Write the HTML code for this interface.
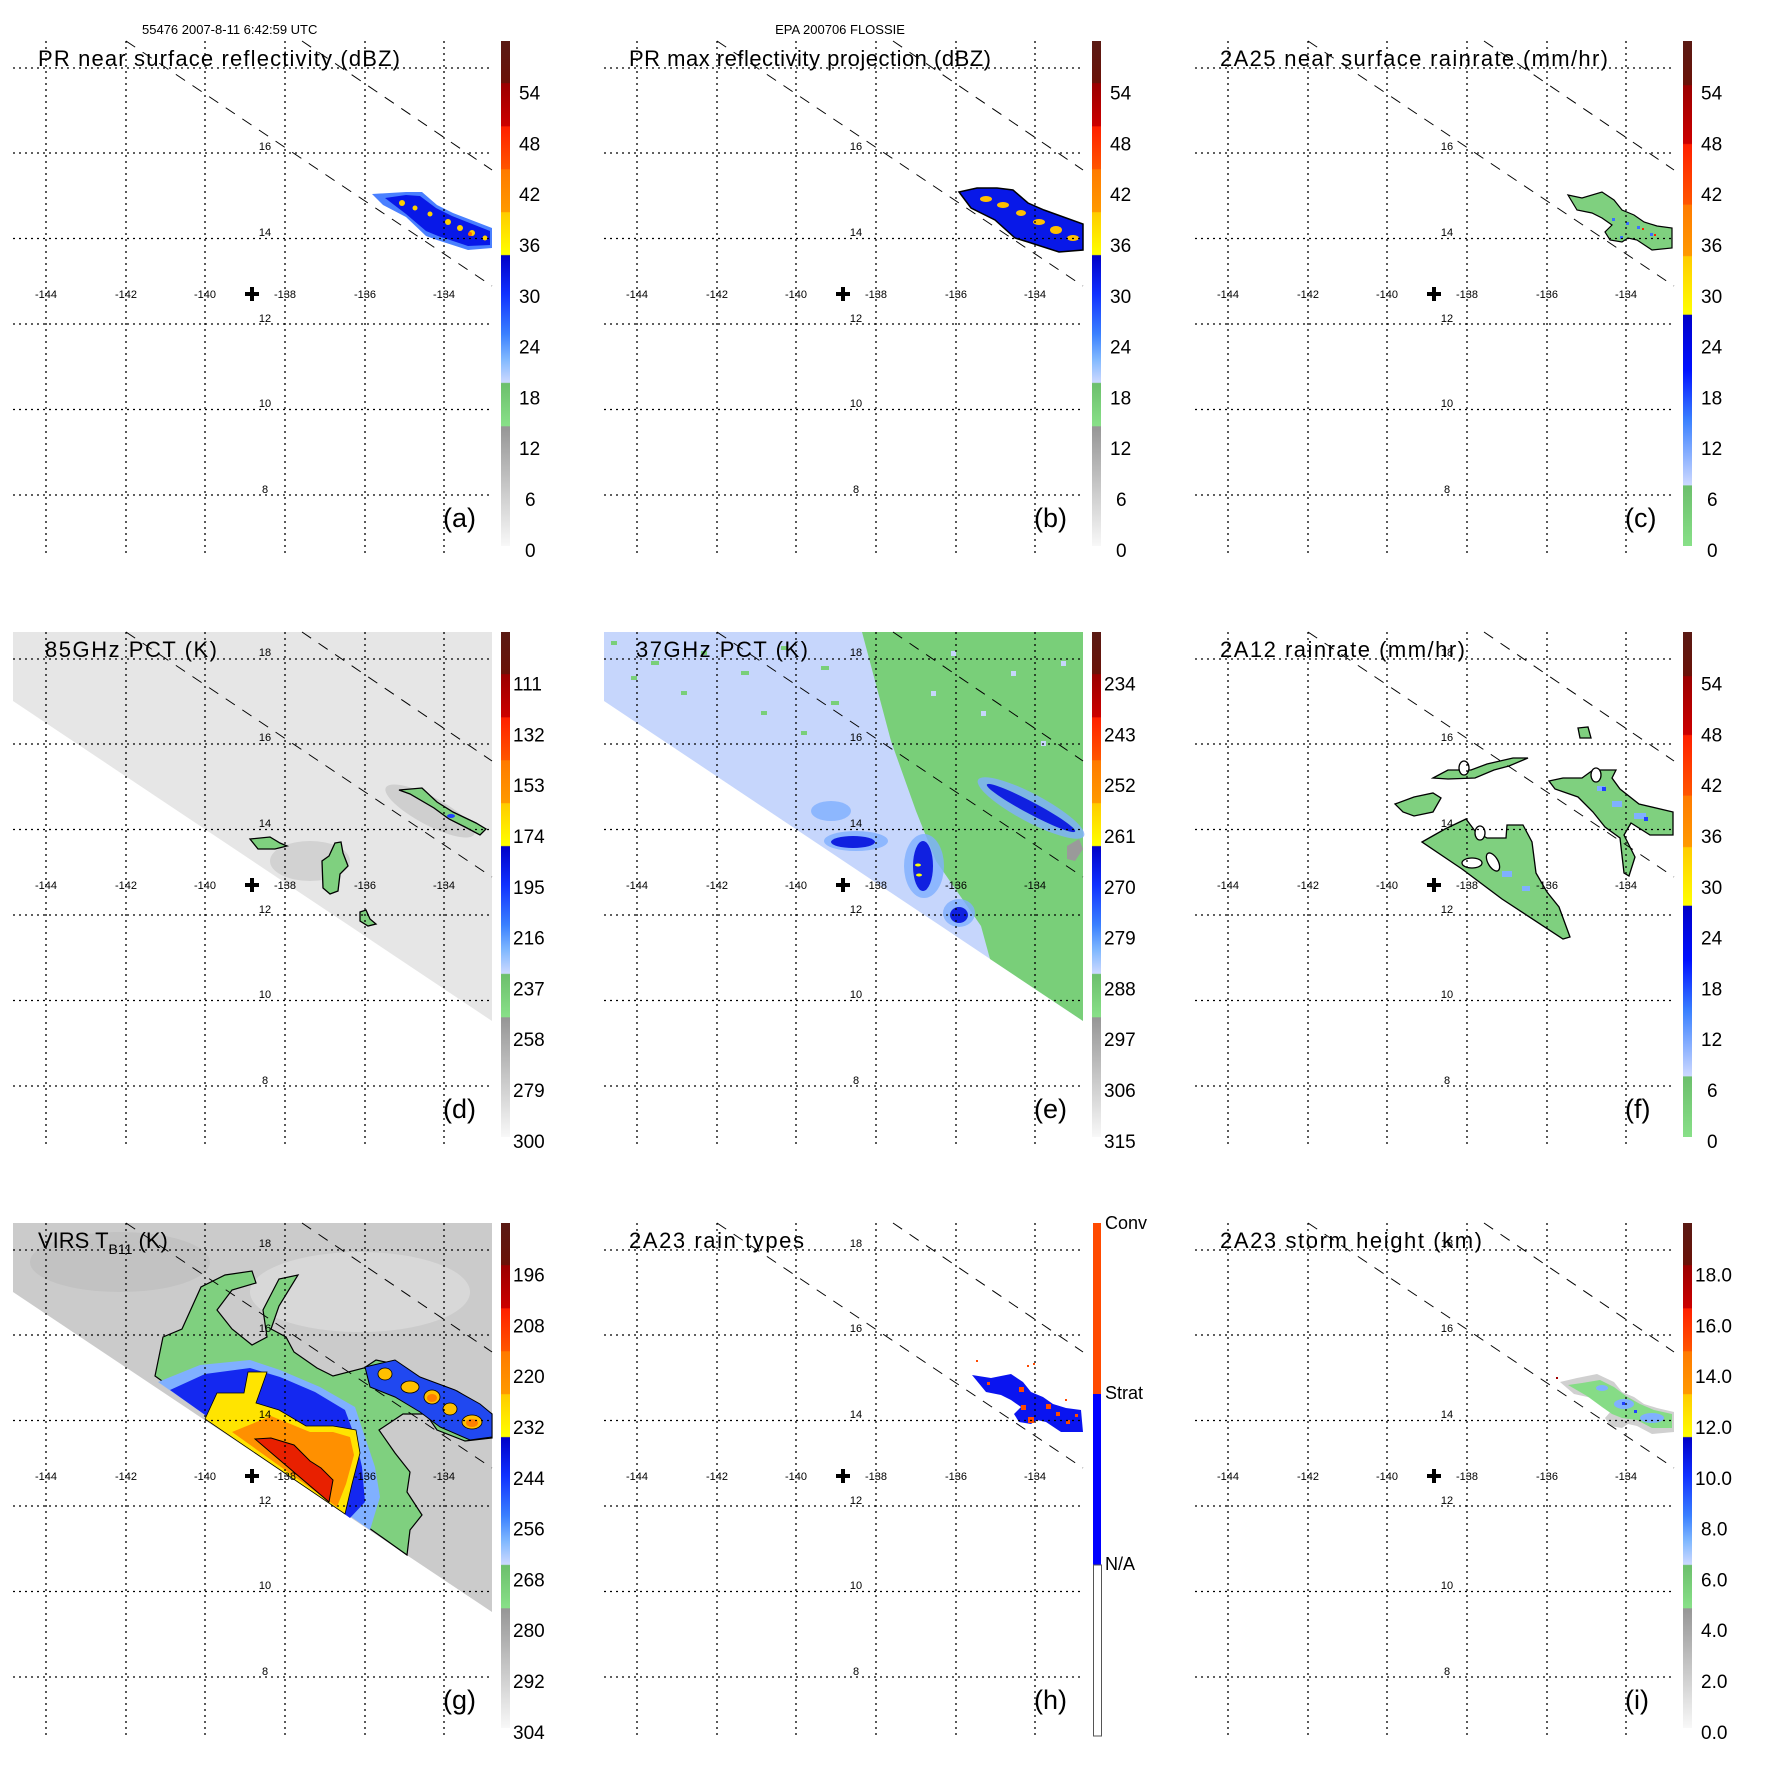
<!DOCTYPE html>
<html><head><meta charset="utf-8"><style>
html,body{margin:0;padding:0;background:#fff}
svg{display:block;font-family:"Liberation Sans",Arial,sans-serif}
.t{font-size:22px}
.lon{font-size:11px;text-anchor:middle}
.lat{font-size:11px;text-anchor:middle}
.cb{font-size:19px}
.pl{font-size:27px}
</style></head><body>
<svg width="1771" height="1771" viewBox="0 0 1771 1771" xmlns="http://www.w3.org/2000/svg">
<defs>
<linearGradient id="gA" x1="0" y1="0" x2="0" y2="1">
<stop offset="0" stop-color="#5a1a14"/><stop offset="0.083" stop-color="#6a1208"/>
<stop offset="0.084" stop-color="#9a0000"/><stop offset="0.168" stop-color="#cc0000"/>
<stop offset="0.17" stop-color="#ff2000"/><stop offset="0.253" stop-color="#ff5500"/>
<stop offset="0.255" stop-color="#ff7a00"/><stop offset="0.338" stop-color="#ff9900"/>
<stop offset="0.34" stop-color="#ffcc00"/><stop offset="0.423" stop-color="#ffff00"/>
<stop offset="0.425" stop-color="#0000c8"/><stop offset="0.5" stop-color="#1030ff"/>
<stop offset="0.58" stop-color="#3a80ff"/><stop offset="0.63" stop-color="#80b8ff"/>
<stop offset="0.676" stop-color="#ccd8ff"/>
<stop offset="0.678" stop-color="#6cbf6c"/><stop offset="0.762" stop-color="#88e088"/>
<stop offset="0.764" stop-color="#969696"/><stop offset="1" stop-color="#f8f8f8"/>
</linearGradient>
<linearGradient id="gC" x1="0" y1="0" x2="0" y2="1">
<stop offset="0" stop-color="#5a1a14"/><stop offset="0.087" stop-color="#6a1208"/>
<stop offset="0.088" stop-color="#9a0000"/><stop offset="0.203" stop-color="#cc0000"/>
<stop offset="0.205" stop-color="#ff2000"/><stop offset="0.323" stop-color="#ff5500"/>
<stop offset="0.325" stop-color="#ff7a00"/><stop offset="0.425" stop-color="#ff9900"/>
<stop offset="0.427" stop-color="#ffcc00"/><stop offset="0.541" stop-color="#ffff00"/>
<stop offset="0.543" stop-color="#0000c8"/><stop offset="0.65" stop-color="#0010ff"/>
<stop offset="0.75" stop-color="#3a80ff"/><stop offset="0.879" stop-color="#ccd8ff"/>
<stop offset="0.881" stop-color="#6cbf6c"/><stop offset="1" stop-color="#88e088"/>
</linearGradient>
<g id="grid" fill="none" stroke="#000">
<g stroke-width="1.3" stroke-dasharray="2,4">
<path d="M46 41V556M126 41V556M205 41V556M285 41V556M365 41V556M444 41V556"/>
<path d="M13 68H492M13 153H492M13 238.5H492M13 324H492M13 409.5H492M13 495H492"/>
</g>
<g stroke-width="1" stroke-dasharray="11,9">
<path d="M126 41L492 286"/><path d="M302 41L492 170"/>
</g>
<path d="M252 287V301M245 294H259" stroke-width="4"/>
</g>
<g id="lbl">
<text class="lon" x="46" y="298">-144</text><text class="lon" x="126" y="298">-142</text>
<text class="lon" x="205" y="298">-140</text><text class="lon" x="285" y="298">-138</text>
<text class="lon" x="365" y="298">-136</text><text class="lon" x="444" y="298">-134</text>
</g>
<polygon id="swath" points="13,41 492,41 492,430 13,110"/>
</defs>

<text x="142" y="34" font-size="13">55476 2007-8-11 6:42:59 UTC</text>
<text x="840" y="34" font-size="13" text-anchor="middle">EPA 200706 FLOSSIE</text>

<!-- Panel a -->
<g transform="translate(0,0)">
<polygon points="372,194 406,192 422,192 437,205 453,213 492,228 492,248 468,250 437,240 426,236 406,217 383,205" fill="#4a80ff"/>
<polygon points="385,198 406,195 420,196 436,208 452,216 490,231 490,245 468,246 438,236 426,231 406,214" fill="#0818e8"/>
<g fill="#ffd000"><circle cx="402" cy="203" r="3"/><circle cx="415" cy="208" r="2.5"/><circle cx="430" cy="214" r="2.5"/><circle cx="448" cy="222" r="3"/><circle cx="460" cy="228" r="3"/><circle cx="472" cy="233" r="3"/><circle cx="485" cy="238" r="2.5"/></g>
<circle cx="470" cy="234" r="2" fill="#ff6a00"/>
<use href="#grid"/>
<text class="lat" x="265" y="150">16</text><text class="lat" x="265" y="236">14</text><text class="lat" x="265" y="322">12</text><text class="lat" x="265" y="407">10</text><text class="lat" x="265" y="493">8</text>
<use href="#lbl"/>
<text class="t" x="38" y="66" textLength="362">PR near surface reflectivity (dBZ)</text>
<rect x="501" y="41" width="9" height="505" fill="url(#gA)"/>
<g class="cb"><text x="519" y="99.6">54</text><text x="519" y="150.4">48</text><text x="519" y="201.2">42</text><text x="519" y="252">36</text><text x="519" y="302.8">30</text><text x="519" y="353.6">24</text><text x="519" y="404.4">18</text><text x="519" y="455.2">12</text><text x="525" y="506">6</text><text x="525" y="556.8">0</text></g>
<text class="pl" x="443" y="527">(a)</text>
</g>

<!-- Panel b -->
<g transform="translate(591,0)">
<polygon points="368,192 386,188 406,188 422,190 437,203 453,210 492,224 492,250 468,252 437,242 424,238 404,220 380,208" fill="#0818e8" stroke="#000" stroke-width="1.5"/>
<g fill="#ffc000"><ellipse cx="395" cy="199" rx="6" ry="3"/><ellipse cx="412" cy="205" rx="6" ry="3"/><ellipse cx="430" cy="213" rx="5" ry="3"/><ellipse cx="448" cy="222" rx="6" ry="3"/><ellipse cx="465" cy="230" rx="6" ry="4"/><ellipse cx="482" cy="238" rx="6" ry="3"/></g>
<use href="#grid"/>
<text class="lat" x="265" y="150">16</text><text class="lat" x="265" y="236">14</text><text class="lat" x="265" y="322">12</text><text class="lat" x="265" y="407">10</text><text class="lat" x="265" y="493">8</text>
<use href="#lbl"/>
<text class="t" x="38" y="66" textLength="362">PR max reflectivity projection (dBZ)</text>
<rect x="501" y="41" width="9" height="505" fill="url(#gA)"/>
<g class="cb"><text x="519" y="99.6">54</text><text x="519" y="150.4">48</text><text x="519" y="201.2">42</text><text x="519" y="252">36</text><text x="519" y="302.8">30</text><text x="519" y="353.6">24</text><text x="519" y="404.4">18</text><text x="519" y="455.2">12</text><text x="525" y="506">6</text><text x="525" y="556.8">0</text></g>
<text class="pl" x="443" y="527">(b)</text>
</g>

<!-- Panel c -->
<g transform="translate(1182,0)">
<polygon points="386,195 400,198 420,192 432,200 440,210 452,215 462,222 475,226 490,228 490,248 470,250 455,240 446,238 440,242 428,240 423,232 430,225 420,218 410,213 395,210" fill="#7fd07f" stroke="#000" stroke-width="1.2"/>
<g fill="#3a70ff"><rect x="430" y="218" width="3" height="3"/><rect x="444" y="222" width="3" height="3"/><rect x="455" y="226" width="3" height="3"/><rect x="468" y="233" width="3" height="3"/><rect x="438" y="236" width="3" height="3"/></g>
<g fill="#ff2000"><rect x="460" y="228" width="2" height="2"/><rect x="472" y="234" width="2" height="2"/></g>
<use href="#grid"/>
<text class="lat" x="265" y="150">16</text><text class="lat" x="265" y="236">14</text><text class="lat" x="265" y="322">12</text><text class="lat" x="265" y="407">10</text><text class="lat" x="265" y="493">8</text>
<use href="#lbl"/>
<text class="t" x="38" y="66" textLength="388">2A25 near surface rainrate (mm/hr)</text>
<rect x="501" y="41" width="9" height="505" fill="url(#gC)"/>
<g class="cb"><text x="519" y="99.6">54</text><text x="519" y="150.4">48</text><text x="519" y="201.2">42</text><text x="519" y="252">36</text><text x="519" y="302.8">30</text><text x="519" y="353.6">24</text><text x="519" y="404.4">18</text><text x="519" y="455.2">12</text><text x="525" y="506">6</text><text x="525" y="556.8">0</text></g>
<text class="pl" x="443" y="527">(c)</text>
</g>

<!-- Panel d -->
<g transform="translate(0,591)">
<use href="#swath" fill="#e6e6e6"/>
<ellipse cx="430" cy="220" rx="50" ry="14" fill="#cfcfcf" transform="rotate(28 430 220)"/>
<ellipse cx="310" cy="270" rx="40" ry="20" fill="#d2d2d2"/>
<g fill="#7fd07f" stroke="#000" stroke-width="1.3">
<polygon points="399,199 422,197 437,211 453,221 476,232 486,238 480,244 465,236 449,228 434,217 410,203"/>
<polygon points="250,248 270,246 280,252 287,255 275,258 258,258"/>
<polygon points="335,252 341,251 343,262 348,275 340,283 338,300 330,303 323,297 322,270 329,265"/>
<polygon points="360,321 366,319 370,328 376,333 368,335 360,330"/>
</g>
<ellipse cx="451" cy="225" rx="4" ry="2" fill="#2040ff"/>
<use href="#grid"/>
<text class="lat" x="265" y="65">18</text><text class="lat" x="265" y="150">16</text><text class="lat" x="265" y="236">14</text><text class="lat" x="265" y="322">12</text><text class="lat" x="265" y="407">10</text><text class="lat" x="265" y="493">8</text>
<use href="#lbl"/>
<text class="t" x="45" y="66" textLength="172">85GHz PCT (K)</text>
<rect x="501" y="41" width="9" height="505" fill="url(#gA)"/>
<g class="cb"><text x="513" y="99.6">111</text><text x="513" y="150.4">132</text><text x="513" y="201.2">153</text><text x="513" y="252">174</text><text x="513" y="302.8">195</text><text x="513" y="353.6">216</text><text x="513" y="404.4">237</text><text x="513" y="455.2">258</text><text x="513" y="506">279</text><text x="513" y="556.8">300</text></g>
<text class="pl" x="443" y="527">(d)</text>
</g>

<!-- Panel e -->
<g transform="translate(591,591)">
<use href="#swath" fill="#c6d6fc"/>
<polygon points="271,41 492,41 492,430 399,368 390,335 345,270 325,220 300,150" fill="#79cf79"/>
<g fill="#79cf79"><rect x="20" y="50" width="6" height="4"/><rect x="60" y="70" width="8" height="4"/><rect x="110" y="60" width="6" height="4"/><rect x="150" y="80" width="8" height="4"/><rect x="190" y="55" width="6" height="4"/><rect x="230" y="75" width="8" height="4"/><rect x="90" y="100" width="6" height="4"/><rect x="170" y="120" width="6" height="4"/><rect x="240" y="110" width="8" height="4"/><rect x="210" y="140" width="6" height="4"/><rect x="40" y="85" width="6" height="4"/></g>
<g fill="#c6d6fc"><rect x="360" y="60" width="5" height="5"/><rect x="420" y="80" width="5" height="5"/><rect x="470" y="70" width="5" height="5"/><rect x="390" y="120" width="5" height="5"/><rect x="450" y="150" width="5" height="5"/><rect x="340" y="100" width="5" height="5"/></g>
<g fill="#80b0ff" opacity="0.8"><ellipse cx="440" cy="217" rx="60" ry="14" transform="rotate(28 440 217)"/><ellipse cx="265" cy="250" rx="32" ry="10"/><ellipse cx="333" cy="275" rx="20" ry="32"/><ellipse cx="368" cy="322" rx="16" ry="14"/><ellipse cx="240" cy="220" rx="20" ry="10"/></g>
<g fill="#1020e0"><ellipse cx="440" cy="217" rx="50" ry="6" transform="rotate(28 440 217)"/><ellipse cx="262" cy="251" rx="22" ry="6"/><ellipse cx="332" cy="275" rx="10" ry="25"/><ellipse cx="368" cy="324" rx="9" ry="8"/></g>
<g fill="#ffff00"><ellipse cx="327" cy="274" rx="3" ry="1.5"/><ellipse cx="328" cy="284" rx="3" ry="1.5"/></g>
<polygon points="476,255 488,248 492,258 484,270 476,268" fill="#9a9a9a"/>
<use href="#grid"/>
<text class="lat" x="265" y="65">18</text><text class="lat" x="265" y="150">16</text><text class="lat" x="265" y="236">14</text><text class="lat" x="265" y="322">12</text><text class="lat" x="265" y="407">10</text><text class="lat" x="265" y="493">8</text>
<use href="#lbl"/>
<text class="t" x="45" y="66" textLength="172">37GHz PCT (K)</text>
<rect x="501" y="41" width="9" height="505" fill="url(#gA)"/>
<g class="cb"><text x="513" y="99.6">234</text><text x="513" y="150.4">243</text><text x="513" y="201.2">252</text><text x="513" y="252">261</text><text x="513" y="302.8">270</text><text x="513" y="353.6">279</text><text x="513" y="404.4">288</text><text x="513" y="455.2">297</text><text x="513" y="506">306</text><text x="513" y="556.8">315</text></g>
<text class="pl" x="443" y="527">(e)</text>
</g>

<!-- Panel f -->
<g transform="translate(1182,591)">
<g fill="#7fd07f" stroke="#000" stroke-width="1.3">
<polygon points="240,251 263,238 284,228 293,240 305,247 324,247 325,234 341,234 350,251 354,282 365,301 377,316 388,346 381,348 320,308 280,278"/>
<polygon points="251,187 266,179 289,179 305,173 331,167 346,167 327,175 312,179 293,187 266,188"/>
<polygon points="213,213 232,206 251,202 259,207 251,221 232,225 221,221"/>
<polygon points="367,190 381,187 400,187 411,179 434,179 430,187 438,198 457,213 491,221 491,244 468,244 449,232 442,244 453,266 447,285 442,282 438,247 423,236 411,221 396,206 373,198"/>
<polygon points="396,137 406,136 409,147 398,147"/>
</g>
<g fill="#fff" stroke="#000" stroke-width="1.3"><ellipse cx="282" cy="177" rx="5" ry="7"/><ellipse cx="298" cy="242" rx="5" ry="7"/><ellipse cx="414" cy="184" rx="5" ry="7"/><ellipse cx="290" cy="272" rx="10" ry="5"/><ellipse cx="311" cy="271" rx="5" ry="10" transform="rotate(-30 311 271)"/></g>
<g fill="#80b0ff"><rect x="415" y="195" width="8" height="5"/><rect x="430" y="210" width="10" height="6"/><rect x="452" y="222" width="12" height="6"/><rect x="320" y="280" width="10" height="6"/><rect x="340" y="295" width="8" height="5"/></g>
<g fill="#2040ff"><rect x="420" y="196" width="4" height="4"/><rect x="462" y="226" width="4" height="4"/></g>
<use href="#grid"/>
<text class="lat" x="265" y="65">18</text><text class="lat" x="265" y="150">16</text><text class="lat" x="265" y="236">14</text><text class="lat" x="265" y="322">12</text><text class="lat" x="265" y="407">10</text><text class="lat" x="265" y="493">8</text>
<use href="#lbl"/>
<text class="t" x="38" y="66" textLength="245">2A12 rainrate (mm/hr)</text>
<rect x="501" y="41" width="9" height="505" fill="url(#gC)"/>
<g class="cb"><text x="519" y="99.6">54</text><text x="519" y="150.4">48</text><text x="519" y="201.2">42</text><text x="519" y="252">36</text><text x="519" y="302.8">30</text><text x="519" y="353.6">24</text><text x="519" y="404.4">18</text><text x="519" y="455.2">12</text><text x="525" y="506">6</text><text x="525" y="556.8">0</text></g>
<text class="pl" x="443" y="527">(f)</text>
</g>

<!-- Panel g -->
<g transform="translate(0,1182)">
<use href="#swath" fill="#cbcbcb"/>
<ellipse cx="360" cy="110" rx="110" ry="40" fill="#d8d8d8"/>
<ellipse cx="120" cy="80" rx="90" ry="30" fill="#c2c2c2"/>
<polygon points="155,194 163,155 182,147 201,105 225,93 252,89 256,101 232,108 217,128 232,147 252,163 267,155 263,128 279,97 298,93 279,124 271,147 286,155 294,170 317,186 333,194 364,186 376,178 395,182 426,201 457,209 476,221 492,232 492,256 465,259 437,248 426,232 403,232 379,248 395,271 410,290 407,310 422,333 410,348 407,373" fill="#7fd07f" stroke="#000" stroke-width="1.2"/>
<polygon points="158,200 200,183 250,178 280,188 320,205 355,225 365,255 375,285 380,315 370,348" fill="#80b0ff"/>
<polygon points="170,208 205,192 250,186 280,195 315,210 345,228 355,255 362,285 365,320 350,336" fill="#1428f0"/>
<polygon points="205,237 217,211 244,211 248,190 267,190 256,221 279,228 306,244 333,244 356,248 360,271 352,302 345,332" fill="#ffe400" stroke="#000" stroke-width="0.8"/>
<polygon points="232,250 271,234 310,250 333,250 350,255 354,273 346,302 337,325" fill="#ff9000"/>
<polygon points="255,257 271,256 294,263 310,279 321,286 333,298 329,320" fill="#e82000" stroke="#000" stroke-width="1"/>
<polygon points="365,185 395,178 420,195 455,208 480,222 492,232 492,255 470,258 440,245 420,230 395,215 370,205" fill="#2048f0" stroke="#000" stroke-width="1"/>
<g fill="#ffc000" stroke="#000" stroke-width="0.8"><ellipse cx="385" cy="192" rx="7" ry="6"/><ellipse cx="410" cy="205" rx="9" ry="6"/><ellipse cx="432" cy="215" rx="8" ry="7"/><ellipse cx="450" cy="227" rx="7" ry="6"/><ellipse cx="472" cy="240" rx="10" ry="7"/></g>
<g fill="#ff8000"><ellipse cx="432" cy="216" rx="5" ry="4"/><ellipse cx="472" cy="241" rx="6" ry="4"/></g>
<use href="#grid"/>
<text class="lat" x="265" y="65">18</text><text class="lat" x="265" y="150">16</text><text class="lat" x="265" y="236">14</text><text class="lat" x="265" y="322">12</text><text class="lat" x="265" y="407">10</text><text class="lat" x="265" y="493">8</text>
<use href="#lbl"/>
<text class="t" x="38" y="66">VIRS T<tspan font-size="14" dy="6">B11</tspan><tspan dy="-6"> (K)</tspan></text>
<rect x="501" y="41" width="9" height="505" fill="url(#gA)"/>
<g class="cb"><text x="513" y="99.6">196</text><text x="513" y="150.4">208</text><text x="513" y="201.2">220</text><text x="513" y="252">232</text><text x="513" y="302.8">244</text><text x="513" y="353.6">256</text><text x="513" y="404.4">268</text><text x="513" y="455.2">280</text><text x="513" y="506">292</text><text x="513" y="556.8">304</text></g>
<text class="pl" x="443" y="527">(g)</text>
</g>

<!-- Panel h -->
<g transform="translate(591,1182)">
<polygon points="381,193 400,196 420,192 432,200 440,210 452,215 462,222 475,226 490,228 492,250 470,250 455,240 446,238 440,242 428,240 423,232 430,225 420,218 410,213 395,210" fill="#0a14f0"/>
<g fill="#ff4a00"><rect x="396" y="200" width="3" height="3"/><rect x="428" y="205" width="5" height="5"/><rect x="430" y="223" width="5" height="5"/><rect x="437" y="235" width="6" height="6"/><rect x="455" y="222" width="5" height="5"/><rect x="465" y="230" width="4" height="4"/><rect x="475" y="238" width="4" height="4"/><rect x="484" y="232" width="3" height="3"/><rect x="436" y="183" width="2" height="2"/><rect x="442" y="181" width="2" height="2"/><rect x="385" y="178" width="2" height="2"/><rect x="474" y="217" width="2" height="2"/></g>
<use href="#grid"/>
<text class="lat" x="265" y="65">18</text><text class="lat" x="265" y="150">16</text><text class="lat" x="265" y="236">14</text><text class="lat" x="265" y="322">12</text><text class="lat" x="265" y="407">10</text><text class="lat" x="265" y="493">8</text>
<use href="#lbl"/>
<text class="t" x="38" y="66" textLength="175">2A23 rain types</text>
<rect x="502" y="41" width="8" height="171" fill="#ff4a00"/>
<rect x="502" y="212" width="8" height="171" fill="#0000ff"/>
<rect x="502.5" y="383" width="8" height="171" fill="#fff" stroke="#555" stroke-width="1"/>
<g font-size="18"><text x="514" y="47">Conv</text><text x="514" y="217">Strat</text><text x="514" y="388">N/A</text></g>
<text class="pl" x="443" y="527">(h)</text>
</g>

<!-- Panel i -->
<g transform="translate(1182,1182)">
<polygon points="378,200 395,196 415,192 432,200 440,210 452,215 462,222 475,226 492,230 492,250 470,252 455,244 446,242 440,246 428,244 423,236 430,228 420,222 410,216 392,212" fill="#bcbcbc" opacity="0.7"/>
<polygon points="386,203 400,201 418,198 432,205 444,214 458,222 472,228 490,232 490,246 470,246 455,238 440,236 430,232 420,225 405,214" fill="#86dc86"/>
<g fill="#80b0ff"><ellipse cx="442" cy="222" rx="10" ry="5"/><ellipse cx="470" cy="236" rx="12" ry="5"/><ellipse cx="420" cy="206" rx="6" ry="3"/></g>
<g fill="#2040ff"><rect x="440" y="220" width="3" height="3"/><rect x="452" y="228" width="3" height="3"/></g>
<rect x="374" y="195" width="2" height="2" fill="#a00000"/>
<use href="#grid"/>
<text class="lat" x="265" y="65">18</text><text class="lat" x="265" y="150">16</text><text class="lat" x="265" y="236">14</text><text class="lat" x="265" y="322">12</text><text class="lat" x="265" y="407">10</text><text class="lat" x="265" y="493">8</text>
<use href="#lbl"/>
<text class="t" x="38" y="66" textLength="262">2A23 storm height (km)</text>
<rect x="501" y="41" width="9" height="505" fill="url(#gA)"/>
<g class="cb"><text x="513" y="99.6">18.0</text><text x="513" y="150.4">16.0</text><text x="513" y="201.2">14.0</text><text x="513" y="252">12.0</text><text x="513" y="302.8">10.0</text><text x="519" y="353.6">8.0</text><text x="519" y="404.4">6.0</text><text x="519" y="455.2">4.0</text><text x="519" y="506">2.0</text><text x="519" y="556.8">0.0</text></g>
<text class="pl" x="443" y="527">(i)</text>
</g>
</svg>
</body></html>
